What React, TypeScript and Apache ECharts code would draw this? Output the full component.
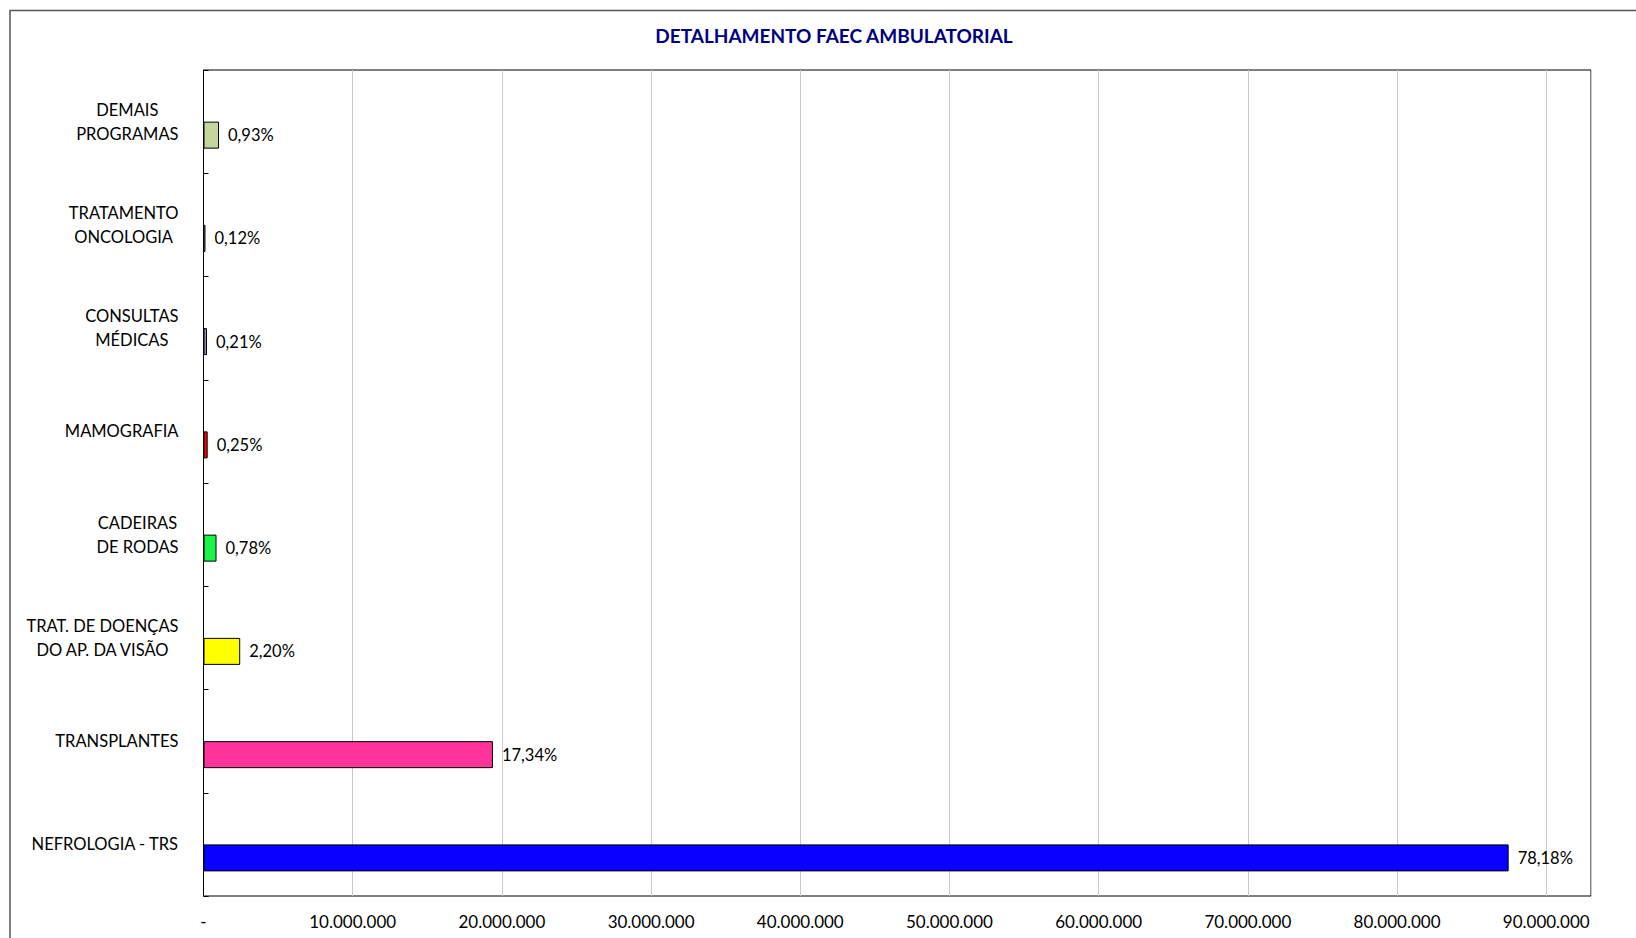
import React, { useEffect, useRef } from "react";
import * as echarts from "echarts";

const categories = [
  "NEFROLOGIA - TRS",
  "TRANSPLANTES",
  "TRAT. DE DOENÇAS\nDO AP. DA VISÃO",
  "CADEIRAS\nDE RODAS",
  "MAMOGRAFIA",
  "CONSULTAS\nMÉDICAS",
  "TRATAMENTO\nONCOLOGIA",
  "DEMAIS\nPROGRAMAS",
];
const values = [87480000, 19400000, 2460000, 873000, 280000, 235000, 134000, 1041000];
const shareLabels = ["78,18%", "17,34%", "2,20%", "0,78%", "0,25%", "0,21%", "0,12%", "0,93%"];
const barColors = ["#0A00FF", "#FF3399", "#FFFF00", "#1CF24A", "#FF0000", "#9484C2", "#E8BE8E", "#C3D69B"];
const axisMax = 93000000;
const axisStep = 10000000;

const FONT = "Lato, 'Noto Sans', sans-serif";

function fmtAxis(v: number): string {
  if (v === 0) return "-";
  return String(Math.round(v)).replace(/\B(?=(\d{3})+(?!\d))/g, ".");
}

export default function App() {
  const ref = useRef<HTMLDivElement>(null);
  useEffect(() => {
    if (!ref.current) return;
    const chart = echarts.init(ref.current, null, { renderer: "svg" });
    chart.setOption({
      animation: false,
      backgroundColor: "#ffffff",
      title: {
        text: "DETALHAMENTO FAEC AMBULATORIAL",
        left: 834,
        top: 26,
        textAlign: "center",
        padding: 0,
        textStyle: { fontFamily: FONT, fontSize: 19, fontWeight: "bold", color: "#000080" },
      },
      graphic: [
        {
          type: "rect",
          shape: { x: 10, y: 10.5, width: 3000, height: 3000 },
          style: { fill: "none", stroke: "#555555", lineWidth: 1.5 },
          silent: true,
        },
      ],
      grid: {
        left: 203.5,
        top: 70,
        right: 45,
        bottom: 42,
        show: true,
        borderColor: "#000000",
        borderWidth: 1,
        backgroundColor: "transparent",
      },
      xAxis: {
        type: "value",
        min: 0,
        max: axisMax,
        interval: axisStep,
        axisLine: { show: false },
        axisTick: { show: false },
        splitLine: { show: true, lineStyle: { color: "#C8C8C8", width: 1 } },
        axisLabel: {
          showMaxLabel: false,
          margin: 17,
          fontFamily: FONT,
          fontSize: 17,
          color: "#000000",
          formatter: (v: number) => fmtAxis(v),
        },
      },
      yAxis: {
        type: "category",
        data: categories,
        axisLine: { show: true, lineStyle: { color: "#000000", width: 1 } },
        axisTick: { show: true, inside: true, length: 5, lineStyle: { color: "#000000" } },
        splitLine: { show: false },
        axisLabel: {
          margin: 25,
          align: "right",
          fontFamily: FONT,
          fontSize: 16.5,
          lineHeight: 24,
          color: "#000000",
          formatter: (value: string) =>
            value
              .split("\n")
              .map((l) => `{c|${l}}`)
              .join("\n"),
          rich: {
            c: { align: "center", fontFamily: FONT, fontSize: 16.5, lineHeight: 24, color: "#000000" },
          },
        },
      },
      series: [
        {
          type: "bar",
          name: "placeholder",
          data: categories.map(() => null),
          barWidth: 27,
          barGap: "0%",
        },
        {
          type: "bar",
          name: "valor",
          barWidth: 27,
          barGap: "0%",
          data: values.map((v, i) => ({
            value: v,
            itemStyle: { color: barColors[i], borderColor: "#000000", borderWidth: 1 },
          })),
          label: {
            show: true,
            position: "right",
            distance: 9,
            fontFamily: FONT,
            fontSize: 16.5,
            color: "#000000",
            formatter: (p: any) => shareLabels[p.dataIndex],
          },
        },
      ],
    });
    return () => chart.dispose();
  }, []);
  return (
    <div
      ref={ref}
      style={{ position: "fixed", left: 0, top: 0, width: 1636, height: 938 }}
    />
  );
}
